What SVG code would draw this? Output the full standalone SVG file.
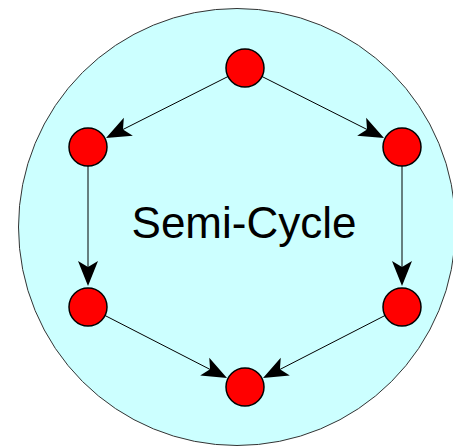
<svg xmlns="http://www.w3.org/2000/svg" width="453" height="446" viewBox="0 0 453 446">
  <style>
    .node { fill: #ff0000; stroke: #000; stroke-width: 1.5; }
    .edge { stroke: #000; stroke-width: 1; fill: none; }
    .head { fill: #000; }
    .label { font-family: "Liberation Sans", Arial, sans-serif; font-size: 44px; fill: #000; text-anchor: middle; }
  </style>
  <defs>
    <path id="ah" class="head" d="M0,0 L-25,-10 L-19,0 L-25,10 Z"/>
  </defs>
  <rect width="453" height="446" fill="#fff"/>
  <g id="container">
    <circle cx="237" cy="227" r="218.5" fill="#ccffff" stroke="#333" stroke-width="1"/>
    <text class="label" x="244" y="238">Semi-Cycle</text>
  </g>
  <g id="connectors">
    <line class="edge" x1="228" y1="76.5" x2="115" y2="133.5"/>
    <use href="#ah" transform="translate(106,138) rotate(153.3)"/>
    <line class="edge" x1="262" y1="76.5" x2="375" y2="133.5"/>
    <use href="#ah" transform="translate(384,138) rotate(26.7)"/>
    <line class="edge" x1="88" y1="166" x2="88" y2="276"/>
    <use href="#ah" transform="translate(88,286) rotate(90)"/>
    <line class="edge" x1="402" y1="166" x2="402" y2="276"/>
    <use href="#ah" transform="translate(402,286) rotate(90)"/>
    <line class="edge" x1="105" y1="315.5" x2="218" y2="373.5"/>
    <use href="#ah" transform="translate(227,378) rotate(27)"/>
    <line class="edge" x1="385" y1="315.5" x2="272" y2="373.5"/>
    <use href="#ah" transform="translate(263,378) rotate(153)"/>
  </g>
  <g id="n-top"><circle class="node" cx="245" cy="68" r="19"/></g>
  <g id="n-upper-left"><circle class="node" cx="88" cy="147" r="19"/></g>
  <g id="n-upper-right"><circle class="node" cx="402" cy="147" r="19"/></g>
  <g id="n-lower-left"><circle class="node" cx="88" cy="307" r="19"/></g>
  <g id="n-lower-right"><circle class="node" cx="402" cy="307" r="19"/></g>
  <g id="n-bottom"><circle class="node" cx="245" cy="387" r="19"/></g>
</svg>
